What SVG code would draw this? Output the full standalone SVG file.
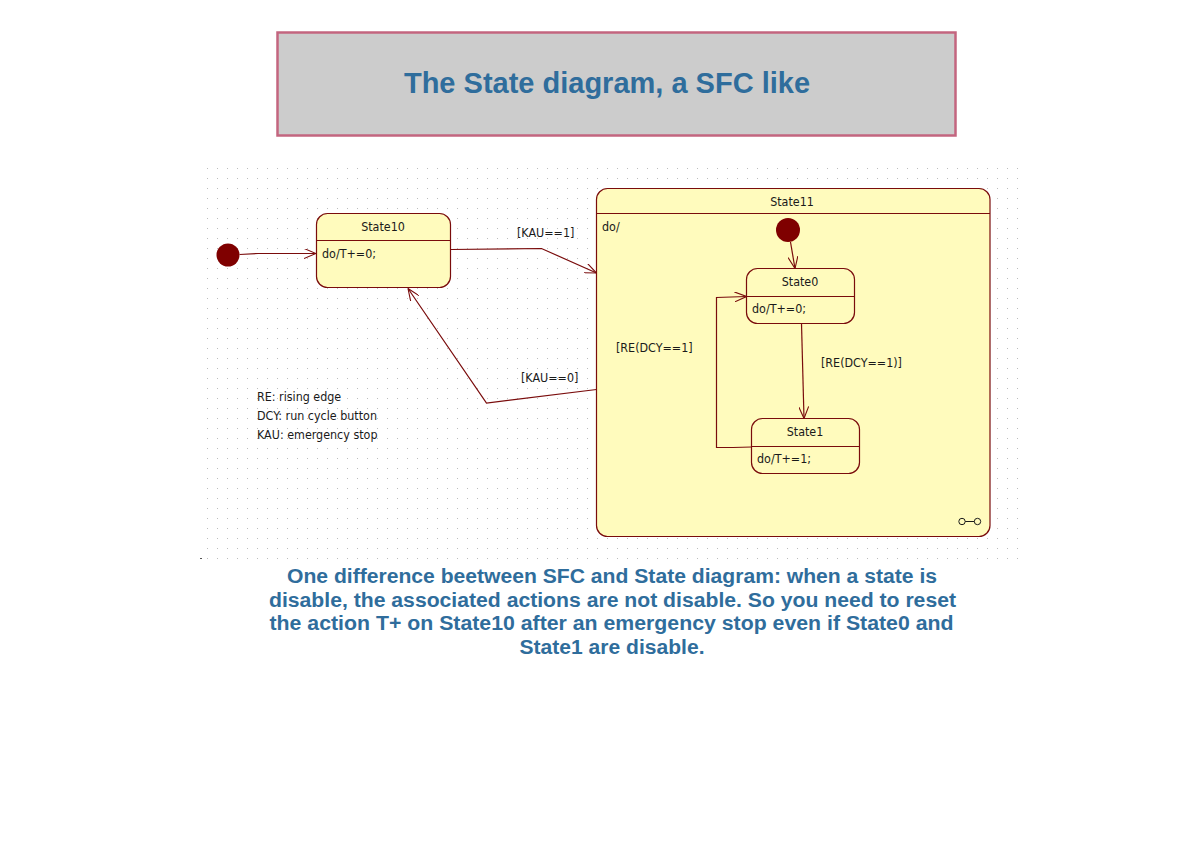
<svg xmlns="http://www.w3.org/2000/svg" width="1189" height="841" viewBox="0 0 1189 841">
<style>
.st{fill:#fffbbd;stroke:#7a0c0c;stroke-width:1.2}
.dv{stroke:#7a0c0c;stroke-width:1.2}
.init{fill:#7f0000}
.t{font-family:"DejaVu Sans Condensed","Liberation Sans",sans-serif;font-size:12.4px;fill:#1a1a1a}
.c{text-anchor:middle}
.conn{fill:none;stroke:#7a0c0c;stroke-width:1.2;marker-end:url(#arr)}
.blue{font-family:"Liberation Sans",Arial,sans-serif;font-weight:bold;fill:#2f6d9c}
.mid{text-anchor:middle}
</style>
<defs>
<pattern id="grid" x="207" y="168" width="10" height="10" patternUnits="userSpaceOnUse">
<rect x="0" y="0" width="1" height="1" fill="#bdbdbd"/>
</pattern>
<marker id="arr" viewBox="0 0 12 10" refX="12" refY="5" markerWidth="12" markerHeight="10" markerUnits="userSpaceOnUse" orient="auto">
<path d="M0,0 L12,5 L0,10" fill="none" stroke="#7a0c0c" stroke-width="1.1"/>
</marker>
</defs>
<rect width="1189" height="841" fill="#ffffff"/>

<g id="title">
<rect x="277.5" y="32.5" width="678" height="103" fill="#cccccc" stroke="#c3657f" stroke-width="2.5"/>
<text class="blue mid" x="607" y="93" font-size="29">The State diagram, a SFC like</text>
</g>

<rect x="203" y="165" width="818" height="396" fill="url(#grid)"/>
<rect x="200" y="558" width="2" height="1" fill="#555"/>

<g id="State11">
<rect class="st" x="596.5" y="188.5" width="393.5" height="348" rx="11"/>
<line class="dv" x1="596.5" y1="213.5" x2="990" y2="213.5"/>
<text class="t c" x="792" y="206">State11</text>
<text class="t" x="602" y="231">do/</text>
<g fill="none" stroke="#1a1a1a" stroke-width="1">
<circle cx="962" cy="521.5" r="3.2"/>
<circle cx="977.5" cy="521.5" r="3.2"/>
<line x1="965.2" y1="521.5" x2="974.3" y2="521.5"/>
</g>
</g>

<g id="init1">
<circle class="init" cx="228" cy="255" r="11.5"/>
</g>

<g id="init2">
<circle class="init" cx="788" cy="230" r="12"/>
</g>

<g id="State10">
<rect class="st" x="316.5" y="213.5" width="134" height="74" rx="11"/>
<line class="dv" x1="316.5" y1="240.5" x2="450.5" y2="240.5"/>
<text class="t c" x="383" y="231">State10</text>
<text class="t" x="322" y="258">do/T+=0;</text>
</g>

<g id="State0">
<rect class="st" x="746.5" y="268.5" width="108" height="55" rx="11"/>
<line class="dv" x1="746.5" y1="296.5" x2="854.5" y2="296.5"/>
<text class="t c" x="800" y="286">State0</text>
<text class="t" x="752" y="313">do/T+=0;</text>
</g>

<g id="State1">
<rect class="st" x="751.5" y="418.5" width="108" height="55" rx="11"/>
<line class="dv" x1="751.5" y1="446.5" x2="859.5" y2="446.5"/>
<text class="t c" x="805" y="436">State1</text>
<text class="t" x="757" y="463">do/T+=1;</text>
</g>

<g id="connectors">
<polyline class="conn" points="239.5,254.5 258,253.5 316,253.5"/>
<polyline class="conn" points="451,249.5 541.5,248.5 596.5,273"/>
<polyline class="conn" points="596.5,389.5 486.5,403 408,288.5"/>
<polyline class="conn" points="790.5,242 795,268.5"/>
<polyline class="conn" points="801.5,323.5 804,418.5"/>
<polyline class="conn" points="751.5,447 733,447.5 716.5,447.5 716.5,297.5 746.5,296.5"/>
<text class="t" x="517" y="237">[KAU==1]</text>
<text class="t" x="521" y="382">[KAU==0]</text>
<text class="t" x="616" y="352">[RE(DCY==1]</text>
<text class="t" x="821" y="367">[RE(DCY==1)]</text>
</g>

<g id="legend">
<text class="t" x="257" y="401">RE: rising edge</text>
<text class="t" x="257" y="420">DCY: run cycle button</text>
<text class="t" x="257" y="439">KAU: emergency stop</text>
</g>

<g id="note" font-size="20">
<text class="blue" x="287" y="583" textLength="650" lengthAdjust="spacingAndGlyphs">One difference beetween SFC and State diagram: when a state is</text>
<text class="blue" x="269" y="606.5" textLength="687" lengthAdjust="spacingAndGlyphs">disable, the associated actions are not disable. So you need to reset</text>
<text class="blue" x="269.5" y="630" textLength="684" lengthAdjust="spacingAndGlyphs">the action T+ on State10 after an emergency stop even if State0 and</text>
<text class="blue" x="519.5" y="654" textLength="185" lengthAdjust="spacingAndGlyphs">State1 are disable.</text>
</g>
</svg>
